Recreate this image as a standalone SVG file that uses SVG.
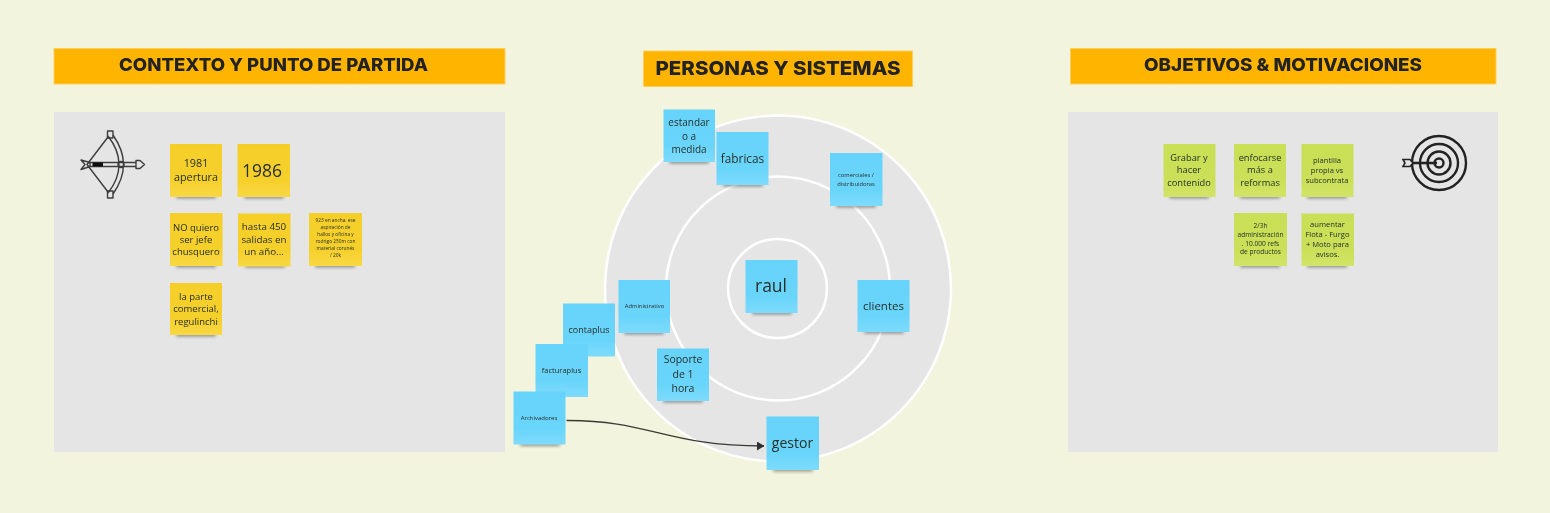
<svg xmlns="http://www.w3.org/2000/svg" width="1550" height="513" viewBox="0 0 1550 513">
<style>
.hdr{fill:#ffb500;stroke:#ffcf5c;stroke-width:1}
.ttl{font-family:"Inter","Liberation Sans",sans-serif;font-weight:800;fill:#232320;text-anchor:middle}
.panel{fill:#e5e5e5}
.ring{fill:none;stroke:#fff;stroke-width:2.500}
.t{font-family:"Open Sans","Noto Sans",sans-serif;fill:#26302c;text-anchor:middle}
.y{fill:url(#gy)}.b{fill:url(#gb)}.g{fill:url(#gg)}
.sh{fill:#333;opacity:.5;filter:url(#bl);rx:1.5px}
.ic{fill:none;stroke:#3c3c3c;stroke-width:1.400}
.soft{filter:url(#soft)}
</style>
<defs>
<linearGradient id="gy" x1="0" y1="0" x2="0" y2="1"><stop offset="0" stop-color="#f6cf28"/><stop offset=".7" stop-color="#f6d02c"/><stop offset="1" stop-color="#f8d844"/></linearGradient>
<linearGradient id="gb" x1="0" y1="0" x2="0" y2="1"><stop offset="0" stop-color="#66d3fa"/><stop offset=".7" stop-color="#6ad5fb"/><stop offset="1" stop-color="#7ddbfc"/></linearGradient>
<linearGradient id="gg" x1="0" y1="0" x2="0" y2="1"><stop offset="0" stop-color="#c9df56"/><stop offset=".7" stop-color="#cbe058"/><stop offset="1" stop-color="#d2e468"/></linearGradient>
<filter id="bl" x="-20%" y="-200%" width="140%" height="500%"><feGaussianBlur stdDeviation="1.500"/></filter>
<filter id="soft" x="-5%" y="-5%" width="110%" height="110%"><feGaussianBlur stdDeviation="0.5"/></filter>
<marker id="arr" markerWidth="9" markerHeight="10" refX="7" refY="4.500" orient="auto" markerUnits="userSpaceOnUse"><path d="M0,0L7.500,4.500L0,9Z" fill="#333"/></marker>
</defs>
<rect width="1550" height="513" fill="#f2f4dd"/>
<g class="soft">
<g id="panel-contexto"><rect class="panel" x="54" y="112" width="451" height="340"/></g>
<g id="panel-objetivos"><rect class="panel" x="1068" y="112" width="430" height="340"/></g>
<g id="onion">
<circle cx="778" cy="288.500" r="173" fill="#e5e5e5" stroke="#fff" stroke-width="2.500"/>
<circle class="ring" cx="778" cy="288.500" r="112"/>
<circle class="ring" cx="777.500" cy="288.500" r="49.500"/>
</g>
<g id="hdr-contexto"><rect class="hdr" x="54" y="48.500" width="451" height="35.500"/><text class="ttl" x="273.500" y="71" font-size="17.500" textLength="309" lengthAdjust="spacingAndGlyphs">CONTEXTO Y PUNTO DE PARTIDA</text></g>
<g id="hdr-personas"><rect class="hdr" x="643.500" y="51" width="269" height="35.500"/><text class="ttl" x="778" y="74.500" font-size="19" textLength="245" lengthAdjust="spacingAndGlyphs">PERSONAS Y SISTEMAS</text></g>
<g id="hdr-objetivos"><rect class="hdr" x="1070.500" y="48.500" width="425.500" height="35.500"/><text class="ttl" x="1283" y="71" font-size="17.500" textLength="278" lengthAdjust="spacingAndGlyphs">OBJETIVOS &amp; MOTIVACIONES</text></g>

<g id="icon-bow" stroke-linejoin="round">
<path class="ic" d="M108,136Q119,150 119,164.500Q119,179 108,193"/>
<path class="ic" d="M113,135Q123.500,150 123.500,164.500Q123.500,179 113,194"/>
<rect class="ic" x="107.500" y="131" width="5.500" height="7" fill="#e5e5e5"/>
<rect class="ic" x="107.500" y="191" width="5.500" height="7" fill="#e5e5e5"/>
<path class="ic" d="M108,137L87,164.500L108,192"/>
<path class="ic" d="M88,162.500H136M88,166.500H136"/>
<path class="ic" d="M81,160L90,162.500L90,166.500L81,169.500L85,164.500Z" fill="#e5e5e5"/>
<rect x="92.500" y="162.500" width="10.500" height="4" fill="#111"/>
<circle class="ic" cx="121" cy="164.500" r="3"/>
<path class="ic" d="M136,160.500L140,160.500L144.500,164.500L140,168.500L136,168.500Z" fill="#e5e5e5"/>
</g>
<g id="icon-target">
<g fill="none" stroke="#222" stroke-width="2.400">
<circle cx="1439" cy="163" r="27"/><circle cx="1439" cy="163" r="19"/><circle cx="1439" cy="163" r="11.500"/><circle cx="1439" cy="163" r="4.500"/>
</g>
<path d="M1410,163H1437" stroke="#222" stroke-width="2.600"/>
<path d="M1403,159.500H1410L1413,163L1410,166.500H1403L1405,163Z" fill="#e5e5e5" stroke="#222" stroke-width="1.600"/>
</g>

<g id="n-1981"><rect class="sh" x="176" y="195.500" width="40" height="3"/><rect class="y" x="170" y="144" width="52" height="53"/><text class="t" font-size="10.800"><tspan x="196" y="166.500">1981</tspan><tspan x="196" y="181">apertura</tspan></text></g>
<g id="n-1986"><rect class="sh" x="244" y="195.500" width="40" height="3"/><rect class="y" x="237.500" y="144" width="52.500" height="53"/><text class="t" x="262" y="177" font-size="17.500">1986</text></g>
<g id="n-noquiero"><rect class="sh" x="176" y="264.500" width="40" height="3"/><rect class="y" x="170" y="213" width="52.500" height="53"/><text class="t" font-size="9.500"><tspan x="196" y="231">NO quiero</tspan><tspan x="196" y="243">ser jefe</tspan><tspan x="196" y="254.500">chusquero</tspan></text></g>
<g id="n-hasta"><rect class="sh" x="245" y="264.500" width="40" height="3"/><rect class="y" x="238" y="213.500" width="52.500" height="53"/><text class="t" font-size="9.800"><tspan x="264" y="230">hasta 450</tspan><tspan x="264" y="242.500">salidas en</tspan><tspan x="264" y="255">un año...</tspan></text></g>
<g id="n-923"><rect class="sh" x="315" y="264.500" width="40" height="3"/><rect class="y" x="309" y="213" width="53" height="53"/><text class="t" font-size="4.800"><tspan x="335.500" y="222">923 en ancha. ese</tspan><tspan x="335.500" y="229">aspiración de</tspan><tspan x="335.500" y="236">hallos y oficina y</tspan><tspan x="335.500" y="243">rodrigo 250m con</tspan><tspan x="335.500" y="250">material corunés</tspan><tspan x="335.500" y="257">/ 20k</tspan></text></g>
<g id="n-laparte"><rect class="sh" x="176" y="333.500" width="40" height="3"/><rect class="y" x="170" y="283" width="52" height="52"/><text class="t" font-size="9.500"><tspan x="196" y="300">la parte</tspan><tspan x="196" y="312">comercial,</tspan><tspan x="196" y="324.500">regulinchi</tspan></text></g>

<g id="n-estandar"><rect class="sh" x="669" y="160.500" width="40" height="3"/><rect class="b" x="663.500" y="109.500" width="51.500" height="52.500"/><text class="t" font-size="10"><tspan x="689" y="125.500">estandar</tspan><tspan x="689" y="139.500">o a</tspan><tspan x="689" y="153">medida</tspan></text></g>
<g id="n-fabricas"><rect class="sh" x="723" y="183.500" width="40" height="3"/><rect class="b" x="716.500" y="132" width="52" height="53"/><text class="t" x="742.500" y="162.500" font-size="11.800">fabricas</text></g>
<g id="n-comerciales"><rect class="sh" x="836" y="204.500" width="40" height="3"/><rect class="b" x="830" y="153" width="52.500" height="53"/><text class="t" font-size="5.800"><tspan x="856" y="176.500">comerciales /</tspan><tspan x="856" y="185.500">distribuidoras</tspan></text></g>
<g id="n-raul"><rect class="sh" x="752" y="311.500" width="40" height="3"/><rect class="b" x="745.500" y="260" width="52" height="53"/><text class="t" x="771" y="292" font-size="17.500">raul</text></g>
<g id="n-clientes"><rect class="sh" x="864" y="330.500" width="40" height="3"/><rect class="b" x="857.500" y="280" width="52" height="52"/><text class="t" x="883.500" y="310" font-size="11.500">clientes</text></g>
<g id="n-admin"><rect class="sh" x="624" y="331.500" width="40" height="3"/><rect class="b" x="618.500" y="280" width="51.500" height="53"/><text class="t" x="644.500" y="308" font-size="5.800">Administrativo</text></g>
<g id="n-contaplus"><rect class="b" x="563" y="303.500" width="52" height="53"/><text class="t" x="589" y="333" font-size="9">contaplus</text></g>
<g id="n-facturaplus"><rect class="b" x="535.500" y="344" width="52.500" height="53"/><text class="t" x="561.500" y="373" font-size="7.500">facturaplus</text></g>
<g id="n-archivadores"><rect class="sh" x="520" y="443" width="40" height="3"/><rect class="b" x="513.500" y="391.500" width="52" height="53"/><text class="t" x="539" y="420" font-size="6">Archivadores</text></g>
<g id="n-soporte"><rect class="sh" x="663" y="399.500" width="40" height="3"/><rect class="b" x="657" y="348.500" width="52" height="52.500"/><text class="t" font-size="10.500"><tspan x="683" y="363">Soporte</tspan><tspan x="683" y="377.500">de 1</tspan><tspan x="683" y="392">hora</tspan></text></g>
<g id="n-gestor"><rect class="sh" x="773" y="468.500" width="40" height="3"/><rect class="b" x="766.500" y="416.500" width="52.500" height="53.500"/><text class="t" x="792.500" y="448" font-size="14">gestor</text></g>

<g id="n-grabar"><rect class="sh" x="1169" y="195.500" width="40" height="3"/><rect class="g" x="1163.500" y="144" width="52" height="53"/><text class="t" font-size="9.300"><tspan x="1189" y="161">Grabar y</tspan><tspan x="1189" y="173">hacer</tspan><tspan x="1189" y="185.500">contenido</tspan></text></g>
<g id="n-enfocarse"><rect class="sh" x="1240" y="195.500" width="40" height="3"/><rect class="g" x="1234" y="144" width="52" height="53"/><text class="t" font-size="9.300"><tspan x="1260" y="161">enfocarse</tspan><tspan x="1260" y="173">más a</tspan><tspan x="1260" y="185.500">reformas</tspan></text></g>
<g id="n-plantilla"><rect class="sh" x="1307" y="195.500" width="40" height="3"/><rect class="g" x="1301.500" y="144" width="52" height="53"/><text class="t" font-size="7.600"><tspan x="1327" y="163">plantilla</tspan><tspan x="1327" y="173">propia vs</tspan><tspan x="1327" y="183">subcontrata</tspan></text></g>
<g id="n-23h"><rect class="sh" x="1240" y="264.500" width="40" height="3"/><rect class="g" x="1234" y="213" width="53" height="53"/><text class="t" font-size="6.600"><tspan x="1260.500" y="228">2/3h</tspan><tspan x="1260.500" y="237">administración</tspan><tspan x="1260.500" y="245.500">. 10.000 refs</tspan><tspan x="1260.500" y="254">de productos</tspan></text></g>
<g id="n-aumentar"><rect class="sh" x="1307" y="264.500" width="40" height="3"/><rect class="g" x="1301.500" y="213.500" width="52.500" height="52.500"/><text class="t" font-size="7.600"><tspan x="1327.500" y="226.500">aumentar</tspan><tspan x="1327.500" y="236.500">Flota - Furgo</tspan><tspan x="1327.500" y="247">+ Moto para</tspan><tspan x="1327.500" y="257">avisos.</tspan></text></g>

<g id="connectors"><path d="M566.500,420.500C650,420 665,446 764,446" fill="none" stroke="#3a3a36" stroke-width="1.300" marker-end="url(#arr)"/></g>
</g>
</svg>
